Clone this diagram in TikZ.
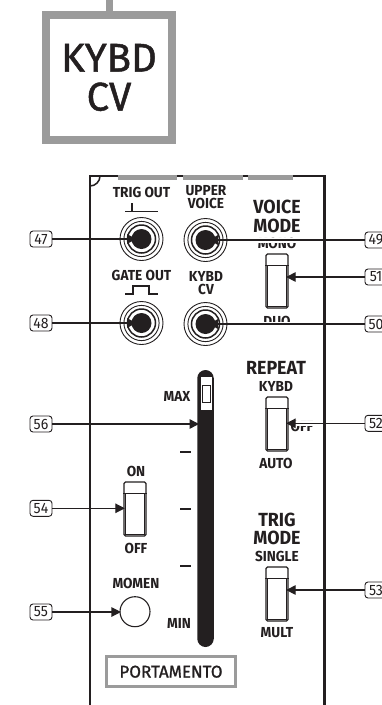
\documentclass[tikz,border=0pt]{standalone}
\usepackage{fontspec}
\setmainfont{Fira Sans}
\newfontfamily\condf[FakeStretch=0.94]{Fira Sans}
\newfontfamily\bigf[FakeBold=1.2]{Fira Sans}
\usetikzlibrary{arrows.meta,calc}
\definecolor{ink}{HTML}{231F20}
\definecolor{framegray}{HTML}{9B9B9B}
\pgfdeclarelayer{bgl}
\pgfdeclarelayer{textl}
\pgfdeclarelayer{halol}
\pgfsetlayers{bgl,textl,halol,main}
\newcommand\jackrings[1]{%
  \fill[ink] (#1) circle[radius=10pt];
  \draw[ink,line width=1.5] (#1) circle[radius=14pt];
  \draw[ink,line width=0.9] (#1) circle[radius=17.6pt];}
\newcommand\swinner[1]{%
  \draw[ink,line width=1] ([yshift=-12pt]#1.north west) -- ([yshift=-12pt]#1.north east);
  \draw[ink,line width=1] ([shift={(2.5pt,-12pt)}]#1.north west) rectangle ([shift={(-2.5pt,2.5pt)}]#1.south east);}
\begin{document}
\begin{tikzpicture}[x=1pt,y=-1pt,
  small/.style={font=\condf\bfseries\fontsize{14.5}{13}\selectfont, text=ink, inner sep=0, align=center},
  big/.style={font=\condf\bfseries\fontsize{19}{16.5}\selectfont, text=ink, inner sep=0, align=center},
  lbl/.style={draw=ink, line width=0.9, rounded corners=3, minimum width=22, minimum height=16, inner sep=0, fill=white, font=\condf\fontsize{15}{15}\selectfont, text=ink},
  jack/.style={circle, draw=ink, line width=0.9, minimum size=43, inner sep=0},
  sw/.style={draw=ink, line width=1.3, rounded corners=1.5, minimum width=22, minimum height=54, inner sep=0, fill=white},
  arr/.style={draw=ink, line width=1.2, -{Triangle[length=9.5pt,width=9.5pt]}},
  halo/.style={draw=white, line width=5},
  panel/.style={draw=ink, line width=2.5},
  tick/.style={draw=ink, line width=2.2},
  sym/.style={draw=ink, line width=1.8}
]
\clip (0,0) rectangle (382,705);
\begin{pgfonlayer}{bgl}
\fill[white] (0,0) rectangle (382,705);
\end{pgfonlayer}

% top KYBD CV box
\node[draw=framegray, line width=8, minimum width=126, minimum height=125, inner sep=0,
      font=\bigf\fontsize{40}{39}\selectfont, text=ink, align=center] (kb) at (109,77.5) {KYBD\\CV};
\draw[framegray, line width=7] (kb.north) -- ++(0,-16);

% panel border
\draw[panel] (90,705) -- (90,176) -- (324.5,176) -- (324.5,705);
\fill[framegray] (118,174.5) rectangle (177,180);
\fill[framegray] (183,174.5) rectangle (243,180);
\fill[framegray] (248,174.5) rectangle (293,180);
\draw[ink, line width=1.5] (90,186) arc[start angle=-90, end angle=0, radius=10pt];

% symbols
\draw[sym] (125,211.5) -- (158,211.5);
\draw[sym] (132,211.5) -- (132,203);
\draw[sym] (125,294) -- (132.7,294) -- (132.7,286) -- (149.3,286) -- (149.3,294) -- (158,294);

% jacks
\node[jack] (j47) at (141.5,239) {};
\node[jack] (j48) at (141.5,323) {};
\node[jack] (j49) at (205.5,240) {};
\node[jack] (j50) at (205.5,324) {};
\jackrings{j47}\jackrings{j48}\jackrings{j49}\jackrings{j50}

% switches
\node[sw] (s51) at (277,281) {};
\node[sw] (s52) at (277,424) {};
\node[sw] (s53) at (277,594) {};
\node[sw] (s54) at (135,509) {};
\swinner{s51}\swinner{s52}\swinner{s53}\swinner{s54}

% slider
\node[fill=ink, rounded corners=8.25, minimum width=16.5, minimum height=277, inner sep=0] (sl) at (205.5,508.5) {};
\node[fill=white, minimum width=11, minimum height=33, inner sep=0] (kn) at (206.5,393.5) {};
\node[draw=ink, line width=0.9, minimum width=8, minimum height=17.5, inner sep=0] (kni) at (206.5,394) {};
\draw[tick] (180,452) -- (191,452);
\draw[tick] (180,509) -- (191,509);
\draw[tick] (180,566) -- (191,566);

% momentary button
\node[circle, draw=ink, line width=1.1, minimum size=30, inner sep=0] (b55) at (135,611.7) {};

% portamento box
\node[draw=framegray, line width=3, minimum width=128.7, minimum height=30.3, inner sep=0,
      font=\bigf\fontsize{17}{17}\selectfont, text=ink] (port) at (171,671.7) {PORTAMENTO};

% labels
\node[lbl] (l47) at (41,239) {47};
\node[lbl] (l48) at (41,323) {48};
\node[lbl] (l56) at (41,424) {56};
\node[lbl] (l54) at (41,508.3) {54};
\node[lbl] (l55) at (41,612) {55};
\node[lbl] (l49) at (376,240) {49};
\node[lbl] (l50) at (376,324) {50};
\node[lbl] (l51) at (376,277) {51};
\node[lbl] (l52) at (376,423.3) {52};
\node[lbl] (l53) at (376,590) {53};

% arrow targets
\coordinate (t47) at ($(j47)+(-5,0)$);
\coordinate (t48) at ($(j48)+(-5,0)$);
\coordinate (t49) at ($(j49)+(3,0)$);
\coordinate (t50) at ($(j50)+(3,0)$);
\coordinate (e51) at (l51.west -| s51.east);
\coordinate (t51) at ($(e51)+(-2.5,0)$);
\coordinate (e52) at (l52.west -| s52.east);
\coordinate (t52) at ($(e52)+(-2.5,0)$);
\coordinate (e53) at (l53.west -| s53.east);
\coordinate (t53) at ($(e53)+(-2.5,0)$);
\coordinate (e54) at (l54.east -| s54.west);
\coordinate (t54) at ($(e54)+(1.5,0)$);
\coordinate (e56) at (l56.east -| sl.west);
\coordinate (t56) at ($(e56)+(2,0)$);
\coordinate (e55) at (l55.east -| b55.west);
\coordinate (t55) at ($(e55)+(1.5,0)$);

\draw[arr] (l47.east) -- (t47);
\draw[arr] (l48.east) -- (t48);
\draw[arr] (l49.west) -- (t49);
\draw[arr] (l50.west) -- (t50);
\draw[arr] (l51.west) -- (t51);
\draw[arr] (l52.west) -- (t52);
\draw[arr] (l53.west) -- (t53);
\draw[arr] (l54.east) -- (t54);
\draw[arr] (l56.east) -- (t56);
\draw[arr] (l55.east) -- (t55);

\begin{pgfonlayer}{halol}
\draw[halo] (l49.west) -- (t49);
\draw[halo] (l50.west) -- (t50);
\draw[halo] (l52.west) -- (t52);
\end{pgfonlayer}

\begin{pgfonlayer}{textl}
\node[small] (tTrig) at (141.5,192) {TRIG OUT};
\node[small] (tUpper) at (206,197.5) {UPPER\\VOICE};
\node[small] (tGate) at (141.5,275) {GATE OUT};
\node[small] (tKybd) at (206,283) {KYBD\\CV};
\node[big] (tVoice) at (277,207.3) {VOICE};
\node[big] (tMode) at (277,225.5) {MODE};
\node[small] (tMono) at (277,243) {MONO};
\node[small] (tDuo) at (277,321) {DUO};
\node[big] (tRepeat) at (276,368) {REPEAT};
\node[small] (tKybd2) at (276,386) {KYBD};
\node[small] (tAuto) at (276,463) {AUTO};
\node[small] (tOff52) at (302,426) {OFF};
\node[big] (tTrigM) at (277,520) {TRIG};
\node[big] (tModeM) at (277,538) {MODE};
\node[small] (tSingle) at (277,556) {SINGLE};
\node[small] (tMult) at (277,633) {MULT};
\node[small] (tOn) at (136,471) {ON};
\node[small] (tOff54) at (136,548) {OFF};
\node[small] (tMomen) at (136,583) {MOMEN};
\node[small] (tMax) at (177,396) {MAX};
\node[small] (tMin) at (179,623) {MIN};
\end{pgfonlayer}
\end{tikzpicture}
\end{document}
